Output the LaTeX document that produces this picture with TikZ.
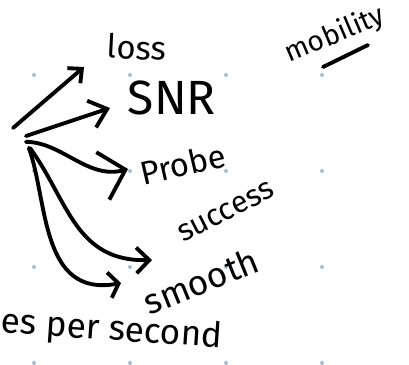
\documentclass[tikz,border=0pt]{standalone}
\usepackage{fontspec}
\setmainfont{Fira Sans}
\usetikzlibrary{arrows.meta}

\tikzset{
  pen/.style={line width=3.3pt, line cap=round, line join=round},
  word/.style={font=\fontsize{#1}{#1}\selectfont, inner sep=0pt},
  griddot/.style={fill=dotblue, draw=none}
}
\definecolor{dotblue}{HTML}{A9B9D8}

\begin{document}
\begin{tikzpicture}[x=0.03cm, y=-0.03cm]
  \clip (0,0) rectangle (409,365);
  % dotted page grid
  \foreach \gx in {34,130,226,322}
    \foreach \gy in {75,171,267,363}
      \fill[griddot] (\gx,\gy) circle (2);

  % labels
  \node[word=28, rotate=-3] (loss) at (137,47) {loss};
  \node[word=41] (snr) at (172,98) {SNR};
  \node[word=28, rotate=13] (probe) at (183,164) {Probe};
  \node[word=26, rotate=27] (success) at (226,212) {success};
  \node[word=30, rotate=22] (smooth) at (201,281) {smooth};
  \node[word=30, rotate=-4, anchor=west] (rate) at (1,323) {es per second};
  \node[word=24, rotate=23] (mobility) at (335,35) {mobility};
  \coordinate (mobA) at (323,67);
  \coordinate (mobB) at (368,45);
  \draw[pen] (mobA) -- (mobB);

  % fan of arrows
  \coordinate (hub) at (26,136);
  \coordinate (hubL) at (13,128);
  \coordinate (hubD) at (30,148);
  \coordinate (toLoss) at (84,67);
  \coordinate (toSnr) at (110,108);
  \coordinate (toProbe) at (128,169);
  \coordinate (toSuccess) at (152,260);
  \coordinate (toSmooth) at (121,283);

  \draw[pen, -{Straight Barb[length=9pt, width=17pt]}] (hubL) -- (toLoss);
  \draw[pen, -{Straight Barb[length=14pt, width=24pt]}] (hub) -- (toSnr);
  \draw[pen, -{Straight Barb[length=20pt, width=42pt]}] ([yshift=-5pt]hub)
    .. controls (62,142) and (88,180) .. (toProbe);
  \draw[pen, -{Straight Barb[length=11pt, width=22pt]}] (hubD)
    .. controls (68,200) and (75,262) .. (toSuccess);
  \draw[pen, -{Straight Barb[length=8pt, width=22pt]}] ([xshift=-1pt]hubD)
    .. controls (48,200) and (40,298) .. (toSmooth);
\end{tikzpicture}
\end{document}
